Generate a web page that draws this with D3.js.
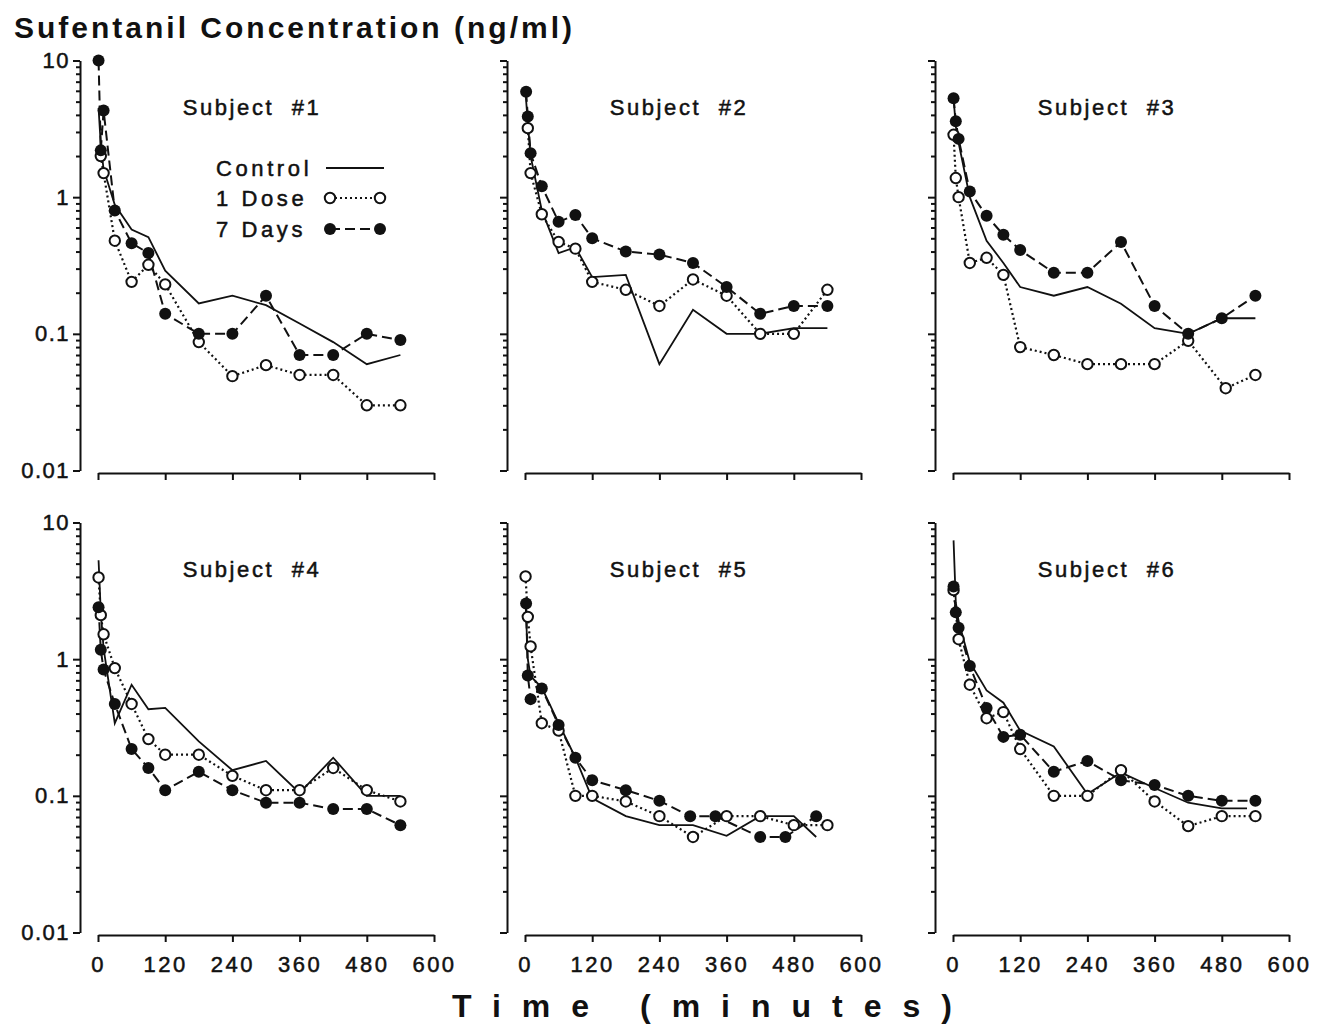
<!DOCTYPE html>
<html>
<head>
<meta charset="utf-8">
<script src="https://cdn.jsdelivr.net/npm/d3@7"></script>
<style>
  body { margin: 0; background: #fff; }
  text { font-family: "Liberation Sans", Arial, sans-serif; fill: #111; }
</style>
</head>
<body>
<div id="chart"></div>
<script>
// sufentanil concentration (ng/ml) vs time (min)
const s1Control = [[1,4.5],[5,2.4],[10,1.6],[30,0.88],[60,0.58],[90,0.51],[120,0.29],[180,0.167],[240,0.19],[300,0.162],[360,0.119],[420,0.087],[480,0.06],[540,0.07]];
const s1Dose    = [[5,2.0],[10,1.5],[30,0.48],[60,0.24],[90,0.32],[120,0.23],[180,0.087],[240,0.049],[300,0.059],[360,0.05],[420,0.05],[480,0.03],[540,0.03]];
const s1Days    = [[1,10],[5,2.2],[10,4.3],[30,0.8],[60,0.46],[90,0.39],[120,0.14],[180,0.1],[240,0.1],[300,0.19],[360,0.07],[420,0.07],[480,0.1],[540,0.09]];

const s2Control = [[1,5.8],[5,3.5],[10,2.0],[30,0.8],[60,0.39],[90,0.43],[120,0.26],[180,0.27],[240,0.06],[300,0.15],[360,0.1],[420,0.1],[480,0.11],[540,0.11]];
const s2Dose    = [[5,3.2],[10,1.5],[30,0.75],[60,0.47],[90,0.42],[120,0.24],[180,0.21],[240,0.16],[300,0.25],[360,0.19],[420,0.1],[480,0.1],[540,0.21]];
const s2Days    = [[2,5.9],[5,3.9],[10,2.1],[30,1.2],[60,0.66],[90,0.74],[120,0.5],[180,0.4],[240,0.38],[300,0.33],[360,0.22],[420,0.14],[480,0.16],[540,0.16]];

const s3Control = [[1,5.3],[5,3.3],[10,2.5],[30,1.0],[60,0.48],[90,0.33],[120,0.22],[180,0.19],[240,0.22],[300,0.166],[360,0.11],[420,0.1],[480,0.13],[540,0.13]];
const s3Dose    = [[1,2.86],[5,1.38],[10,1.0],[30,0.33],[60,0.36],[90,0.27],[120,0.08],[180,0.07],[240,0.06],[300,0.06],[360,0.06],[420,0.089],[487,0.04],[540,0.05]];
const s3Days    = [[1,5.3],[5,3.6],[10,2.67],[30,1.1],[60,0.73],[90,0.53],[120,0.41],[180,0.28],[240,0.28],[300,0.47],[360,0.16],[420,0.1],[480,0.13],[540,0.19]];

const s4Control = [[1,5.3],[5,2.2],[10,1.2],[30,0.34],[60,0.65],[90,0.43],[120,0.44],[180,0.25],[240,0.154],[300,0.18],[360,0.105],[420,0.19],[480,0.1],[540,0.1]];
const s4Dose    = [[1,3.96],[5,2.1],[10,1.52],[30,0.86],[60,0.47],[90,0.26],[120,0.2],[180,0.2],[240,0.14],[300,0.11],[360,0.11],[420,0.16],[480,0.11],[540,0.091]];
const s4Days    = [[1,2.4],[5,1.17],[10,0.84],[30,0.47],[60,0.22],[90,0.16],[120,0.11],[180,0.15],[240,0.11],[300,0.089],[360,0.089],[420,0.08],[480,0.08],[540,0.061]];

const s5Control = [[1,2.6],[5,1.0],[10,0.75],[30,0.62],[60,0.34],[90,0.19],[120,0.096],[180,0.071],[240,0.061],[300,0.061],[360,0.051],[420,0.071],[480,0.071],[520,0.05]];
const s5Dose    = [[1,4.03],[5,2.04],[10,1.24],[30,0.34],[60,0.3],[90,0.1],[120,0.1],[180,0.091],[240,0.071],[300,0.05],[360,0.071],[420,0.071],[480,0.061],[540,0.061]];
const s5Days    = [[2,2.55],[5,0.76],[10,0.51],[30,0.61],[60,0.33],[90,0.19],[120,0.13],[180,0.11],[240,0.092],[295,0.071],[340,0.071],[420,0.05],[465,0.05],[520,0.071]];

const s6Control = [[1,7.4],[5,2.6],[10,1.9],[30,0.95],[60,0.59],[90,0.48],[120,0.3],[180,0.23],[240,0.103],[300,0.148],[360,0.114],[420,0.089],[480,0.081],[525,0.081]];
const s6Dose    = [[1,3.2],[10,1.4],[30,0.65],[60,0.37],[90,0.41],[120,0.22],[180,0.1],[240,0.1],[300,0.154],[360,0.091],[420,0.06],[480,0.071],[540,0.071]];
const s6Days    = [[1,3.4],[5,2.2],[10,1.7],[30,0.89],[60,0.44],[90,0.27],[120,0.28],[180,0.15],[240,0.18],[300,0.13],[360,0.12],[420,0.1],[480,0.092],[540,0.092]];

const subjectLabels = ["Subject  #1","Subject  #2","Subject  #3","Subject  #4","Subject  #5","Subject  #6"];
const seriesNames = ["Control","1 Dose","7 Days"];
const xTicks = [0,120,240,360,480,600];
const yTicks = [0.01,0.1,1,10];
const yTickLabels = ["0.01","0.1","1","10"];

const subjects = [
    [s1Control, s1Dose, s1Days],
    [s2Control, s2Dose, s2Days],
    [s3Control, s3Dose, s3Days],
    [s4Control, s4Dose, s4Days],
    [s5Control, s5Dose, s5Days],
    [s6Control, s6Dose, s6Days]
];

const width = 1332;
const height = 1026;

const svg = d3.select("#chart")
    .append("svg")
    .attr("width", width)
    .attr("height", height);

const panelW = 336;
const panelH = 410;
const colX = [98, 525, 953];
const rowY = [60.5, 522.5];

// minor log ticks 2..9 for each decade
const minorTicks = [];
[0.01,0.1,1].forEach(d => {
    for (let k = 2; k <= 9; k++) minorTicks.push(d*k);
});

function styleAxis(g){
    g.selectAll("path,line")
     .attr("stroke","#111")
     .attr("stroke-width",2);
    g.selectAll("text")
     .attr("font-family","Liberation Sans, Arial, sans-serif")
     .attr("font-size",22)
     .attr("fill","#111")
     .attr("stroke","#111")
     .attr("stroke-width",0.5);
}

subjects.forEach((series, i) => {

    const col = i % 3;
    const row = Math.floor(i / 3);

    const x = d3.scaleLinear()
        .domain([0, 600])
        .range([colX[col], colX[col] + panelW]);

    const y = d3.scaleLog()
        .domain([0.01, 10])
        .range([rowY[row] + panelH, rowY[row]]);

    const g = svg.append("g");
    const axX = colX[col] - 18;

    // y axis, major ticks
    g.append("g")
     .attr("transform", `translate(${axX},0)`)
     .call(
         d3.axisLeft(y)
           .tickValues(yTicks)
           .tickSize(7)
           .tickSizeOuter(0)
           .tickPadding(3)
           .tickFormat((d, k) => col === 0 ? yTickLabels[k] : "")
     )
     .call(styleAxis)
     .call(a => a.selectAll("text").attr("letter-spacing", 1.5));

    // y axis, minor ticks
    g.append("g")
     .attr("transform", `translate(${axX},0)`)
     .call(
         d3.axisLeft(y)
           .tickValues(minorTicks)
           .tickSize(4)
           .tickSizeOuter(0)
           .tickFormat("")
     )
     .call(styleAxis)
     .call(a => a.select(".domain").remove());

    // x axis
    g.append("g")
     .attr("transform", `translate(0,${rowY[row] + panelH + 2.5})`)
     .call(
         d3.axisBottom(x)
           .tickValues(xTicks)
           .tickSize(7)
           .tickSizeOuter(0)
           .tickPadding(14)
           .tickFormat(d => row === 1 ? d : "")
     )
     .call(styleAxis)
     .call(a => a.selectAll("text").attr("letter-spacing", 2.5));

    const line = d3.line()
        .x(d => x(d[0]))
        .y(d => y(d[1]));

    // control: solid, no markers
    g.append("path")
     .datum(series[0])
     .attr("d", line)
     .attr("fill","none")
     .attr("stroke","#111")
     .attr("stroke-width",1.8);

    // 1 dose: dotted
    g.append("path")
     .datum(series[1])
     .attr("d", line)
     .attr("fill","none")
     .attr("stroke","#111")
     .attr("stroke-width",2.2)
     .attr("stroke-dasharray","2,3");

    // 7 days: dashed
    g.append("path")
     .datum(series[2])
     .attr("d", line)
     .attr("fill","none")
     .attr("stroke","#111")
     .attr("stroke-width",2)
     .attr("stroke-dasharray","10,5");

    g.selectAll("circle.dose")
     .data(series[1])
     .enter()
     .append("circle")
     .attr("class","dose")
     .attr("cx", d => x(d[0]))
     .attr("cy", d => y(d[1]))
     .attr("r",5.2)
     .attr("fill","#fff")
     .attr("stroke","#111")
     .attr("stroke-width",2);

    g.selectAll("circle.days")
     .data(series[2])
     .enter()
     .append("circle")
     .attr("class","days")
     .attr("cx", d => x(d[0]))
     .attr("cy", d => y(d[1]))
     .attr("r",6)
     .attr("fill","#111");

    g.append("text")
     .attr("x", colX[col] + 154)
     .attr("y", rowY[row] + 54)
     .attr("text-anchor","middle")
     .attr("font-size",22)
     .attr("letter-spacing",2.6)
     .attr("stroke","#111")
     .attr("stroke-width",0.5)
     .style("white-space","pre")
     .text(subjectLabels[i]);
});

// legend inside subject #1
const lg = svg.append("g");
const legX = 216;
const legY = [168, 198, 229];
const sx0 = 330, sx1 = 380;

seriesNames.forEach((name, k) => {
    lg.append("text")
      .attr("x", legX)
      .attr("y", legY[k] + 8)
      .attr("font-size",22)
      .attr("letter-spacing",3.6)
      .attr("stroke","#111")
      .attr("stroke-width",0.5)
      .style("white-space","pre")
      .text(name);
});

lg.append("line")
  .attr("x1", sx0 - 4).attr("x2", sx1 + 4)
  .attr("y1", legY[0]).attr("y2", legY[0])
  .attr("stroke","#111").attr("stroke-width",1.8);

lg.append("line")
  .attr("x1", sx0).attr("x2", sx1)
  .attr("y1", legY[1]).attr("y2", legY[1])
  .attr("stroke","#111").attr("stroke-width",2.2)
  .attr("stroke-dasharray","2,3");

lg.append("line")
  .attr("x1", sx0).attr("x2", sx1)
  .attr("y1", legY[2]).attr("y2", legY[2])
  .attr("stroke","#111").attr("stroke-width",2)
  .attr("stroke-dasharray","10,5");

[sx0, sx1].forEach(cx => {
    lg.append("circle")
      .attr("cx", cx).attr("cy", legY[1]).attr("r",5.2)
      .attr("fill","#fff").attr("stroke","#111").attr("stroke-width",2);
    lg.append("circle")
      .attr("cx", cx).attr("cy", legY[2]).attr("r",6)
      .attr("fill","#111");
});

// titles
svg.append("text")
   .attr("x", 14)
   .attr("y", 38)
   .attr("font-size",30)
   .attr("font-weight","bold")
   .attr("letter-spacing",3)
   .text("Sufentanil Concentration (ng/ml)");

svg.append("text")
   .attr("x", 452)
   .attr("y", 1017)
   .attr("font-size",32)
   .attr("font-weight","bold")
   .attr("letter-spacing",21)
   .style("white-space","pre")
   .text("Time (minutes)");
</script>
</body>
</html>
